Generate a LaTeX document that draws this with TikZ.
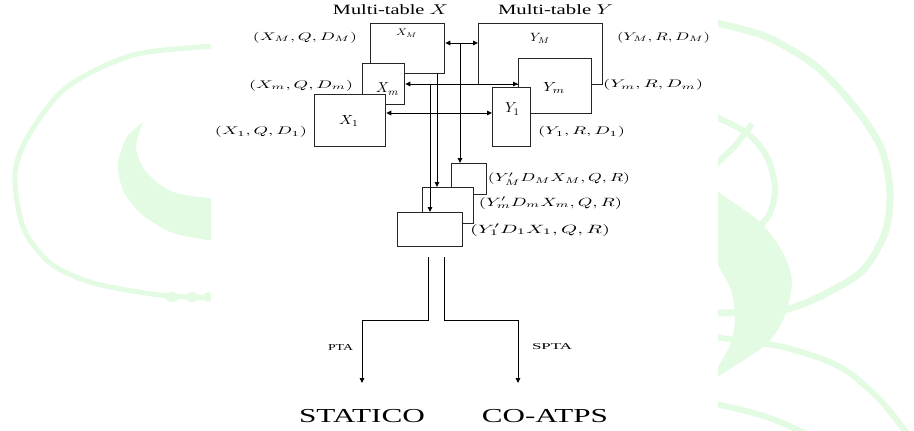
\documentclass[tikz,border=0pt]{standalone}
\usepackage{fontspec}
\setmainfont{Liberation Serif}
\usepackage{graphicx}
\usetikzlibrary{arrows.meta,calc}
\definecolor{wm}{RGB}{226,251,226}
\newcommand{\fitx}[3]{\resizebox*{#1pt}{#2pt}{#3}}
\begin{document}
\begin{tikzpicture}[x=1pt,y=-1pt,
  box/.style={draw=black!85,line width=1.3pt,fill=white,inner sep=0pt,anchor=north west},
  lbl/.style={inner sep=0pt},
  conn/.style={line width=1pt,-{Triangle[length=5pt,width=4.5pt]}},
  dconn/.style={line width=1pt,{Triangle[length=5pt,width=4.5pt]}-{Triangle[length=5pt,width=4.5pt]}},
  wml/.style={draw=wm,line width=6pt}]
\useasboundingbox (0,0) rectangle (914,431);
\clip (0,0) rectangle (914,431);
% watermark
\draw[wml,line width=5pt] plot[smooth] coordinates {(216,46) (133,55) (67,87) (30,133) (15,173) (23,227) (50,263) (93,283) (160,295) (216,298)};
\fill[wm] (172,297) ellipse (7 and 5);
\fill[wm] (192,297) ellipse (7 and 5);
\fill[wm] (208,297) ellipse (5 and 5);
\fill[wm] plot[smooth] coordinates {(143,122) (127,137) (118,163) (123,190) (140,213) (173,233) (216,241)}
  -- plot[smooth] coordinates {(216,199) (173,192) (147,173) (137,153) (137,140) (143,122)} -- cycle;
\draw[wml,line width=7pt] plot[smooth] coordinates {(712,22) (767,37) (817,67) (857,110) (882,150) (890,193) (885,233) (863,270) (827,293) (783,310) (712,313)};
\draw[wml] plot[smooth] coordinates {(712,115) (747,133) (767,157) (775,187) (770,213) (753,233) (733,250) (712,260)};
\draw[wml] (712,168) -- (735,146) -- (752,124);
\fill[wm] plot[smooth] coordinates {(712,188) (760,222) (783,253) (792,283) (783,320) (763,347) (712,380)}
  -- plot[smooth] coordinates {(718,367) (731,343) (735,317) (731,290) (718,265)} -- cycle;
\draw[wml] plot[smooth] coordinates {(712,337) (783,347) (840,367) (880,400) (912,440)};
\draw[wml] plot[smooth] coordinates {(712,403) (767,417) (820,440)};
\fill[white] (211,0) rectangle (718,431);
% boxes
\node[box,minimum width=124pt,minimum height=61pt] (YM) at (478,23) {};
\node[box,minimum width=73pt,minimum height=55pt] (Ym) at (518,58) {};
\node[box,minimum width=38pt,minimum height=59pt] (Y1) at (492,87) {};
\node[box,minimum width=74pt,minimum height=50pt] (XM) at (370,23) {};
\node[box,minimum width=42pt,minimum height=41pt] (Xm) at (362,63) {};
\node[box,minimum width=71pt,minimum height=52pt] (X1) at (314,94) {};
\node[box,minimum width=35pt,minimum height=31pt] (BT) at (451,163) {};
\node[box,minimum width=51pt,minimum height=36pt] (BM) at (422,187) {};
\node[box,minimum width=65pt,minimum height=34pt] (BB) at (397,212) {};
% connectors
\coordinate (lvM) at (0,43);
\coordinate (lvm) at (0,84);
\coordinate (lv1) at (0,113);
\coordinate (jM) at (460,43);
\coordinate (jm) at (430,84);
\coordinate (jx) at (437,0);
\draw[dconn] (XM.east |- lvM) -- (YM.west |- lvM);
\draw[conn] (jM) -- (jM |- BT.north);
\draw[dconn] (Xm.east |- lvm) -- (Ym.west |- lvm);
\draw[conn] (jm) -- (jm |- BB.north);
\draw[conn] (XM.south -| jx) -- (jx |- BM.north);
\draw[dconn] (X1.east |- lv1) -- (Y1.west |- lv1);
\coordinate (sL) at (428,257);
\coordinate (sR) at (444,257);
\coordinate (eL) at (362,383);
\coordinate (eR) at (518,383);
\draw[conn] (sL) -- ++(0,63) -| (eL);
\draw[conn] (sR) -- ++(0,63) -| (eR);
% labels
\node[lbl] (tX) at (390.5,10) {\fitx{115}{10}{Multi-table $X$}};
\node[lbl] (tY) at (555.5,10) {\fitx{115}{10}{Multi-table $Y$}};
\node[lbl] (lXM) at (305,37.5) {\fitx{104}{11}{$(X_M,Q,D_M)$}};
\node[lbl] (lXm) at (301,85.5) {\fitx{104}{11}{$(X_m,Q,D_m)$}};
\node[lbl] (lX1) at (261,132) {\fitx{92}{11}{$(X_1,Q,D_1)$}};
\node[lbl] (lYM) at (663.5,37.5) {\fitx{93}{11}{$(Y_M,R,D_M)$}};
\node[lbl] (lYm) at (653,85) {\fitx{100}{11}{$(Y_m,R,D_m)$}};
\node[lbl] (lY1) at (581.5,132) {\fitx{87}{11}{$(Y_1,R,D_1)$}};
\node[lbl] (lBT) at (559,179) {\fitx{142}{12}{$(Y'_M D_M X_M,Q,R)$}};
\node[lbl] (lBM) at (550.5,203) {\fitx{143}{12}{$(Y'_m D_m X_m,Q,R)$}};
\node[lbl] (lBB) at (540,230) {\fitx{140}{12}{$(Y'_1 D_1 X_1,Q,R)$}};
\node[lbl] (iXM) at (406.5,33) {\fitx{21}{8}{$X_M$}};
\node[lbl] (iXm) at (387.5,89) {\fitx{23}{12}{$X_m$}};
\node[lbl] (iX1) at (349,120.5) {\fitx{20}{11}{$X_1$}};
\node[lbl] (iYM) at (540,38) {\fitx{20}{10}{$Y_M$}};
\node[lbl] (iYm) at (554,87.5) {\fitx{22}{11}{$Y_m$}};
\node[lbl] (iY1) at (512.5,109) {\fitx{15}{12}{$Y_1$}};
\node[lbl] (pta) at (340.5,347) {\fitx{25}{6}{PTA}};
\node[lbl] (spta) at (552,347) {\fitx{40}{6}{SPTA}};
\node[lbl] (STA) at (362,415.7) {\fitx{126}{13.3}{STATICO}};
\node[lbl] (COA) at (545,415.7) {\fitx{126}{13.3}{CO-ATPS}};
\end{tikzpicture}
\end{document}
